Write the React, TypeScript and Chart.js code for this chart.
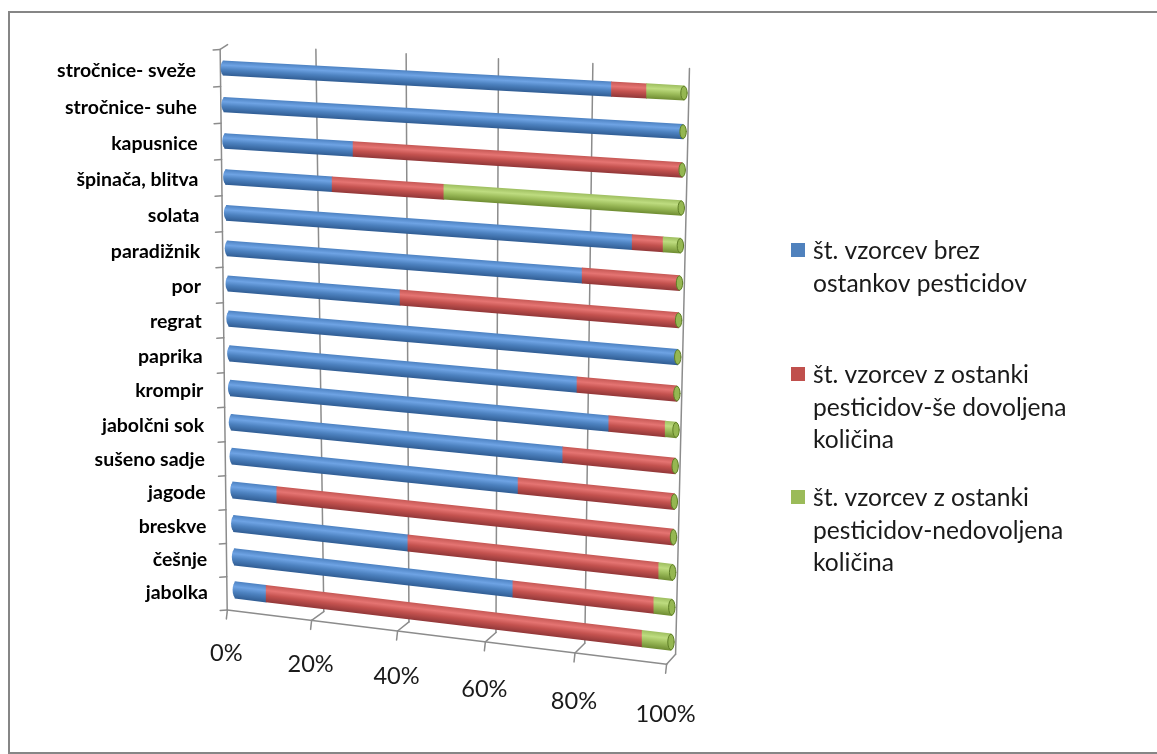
import React, { useEffect, useRef } from 'react';
import { Chart, registerables } from 'chart.js';

Chart.register(...registerables);

// ---------- data ----------
const CATEGORIES = [
  'stročnice- sveže',
  'stročnice- suhe',
  'kapusnice',
  'špinača, blitva',
  'solata',
  'paradižnik',
  'por',
  'regrat',
  'paprika',
  'krompir',
  'jabolčni sok',
  'sušeno sadje',
  'jagode',
  'breskve',
  'češnje',
  'jabolka',
];

const SERIES_NAMES = [
  'št. vzorcev brez ostankov pesticidov',
  'št. vzorcev z ostanki pesticidov-še dovoljena količina',
  'št. vzorcev z ostanki pesticidov-nedovoljena količina',
];

const LEGEND_LINES = [
  ['št. vzorcev brez', 'ostankov pesticidov'],
  ['št. vzorcev z ostanki', 'pesticidov-še dovoljena', 'količina'],
  ['št. vzorcev z ostanki', 'pesticidov-nedovoljena', 'količina'],
];

// percentages (100 % stacked)
const NO_RESIDUE = [85.0, 100, 29.2, 24.4, 89.9, 79.4, 39.5, 100, 78.6, 85.6, 75.7, 65.9, 10.5, 41.0, 64.9, 7.5];
const ALLOWED = [7.3, 0, 70.8, 24.9, 6.5, 20.6, 60.5, 0, 21.4, 12.1, 24.3, 34.1, 89.5, 56.0, 31.2, 86.2];
const NOT_ALLOWED = [7.7, 0, 0, 50.7, 3.6, 0, 0, 0, 0, 2.3, 0, 0, 0, 3.0, 3.9, 6.3];

const X_TICK_VALUES = [0, 20, 40, 60, 80, 100];
const X_TICK_LABELS = ['0%', '20%', '40%', '60%', '80%', '100%'];

// ---------- style ----------
const FONT = 'Lato, "Open Sans", sans-serif';
const BAR_T = 14;
const SOLID = ['#4f81bd', '#c0504d', '#9bbb59'];
const SHADES = [
  { top: '#4f84c4', light: '#6ea3e4', mid: '#4d82c0', dark: '#325f96' },
  { top: '#c85a57', light: '#e57472', mid: '#c4524f', dark: '#94393a' },
  { top: '#a0c062', light: '#bedc80', mid: '#9dbd5b', dark: '#718f34' },
];

// projection of the 3D plot (bar centre plane): corners for (u,v) = (0,0),(1,0),(1,1),(0,1)
const PLANE = {
  p00: [223, 68],
  p10: [684, 93],
  p11: [671, 642],
  p01: [235, 590],
};

function makeHomography(p00: number[], p10: number[], p11: number[], p01: number[]) {
  const [x0, y0] = p00, [x1, y1] = p10, [x2, y2] = p11, [x3, y3] = p01;
  const dx1 = x1 - x2, dx2 = x3 - x2, dx3 = x0 - x1 + x2 - x3;
  const dy1 = y1 - y2, dy2 = y3 - y2, dy3 = y0 - y1 + y2 - y3;
  const den = dx1 * dy2 - dx2 * dy1;
  const g = (dx3 * dy2 - dx2 * dy3) / den;
  const h = (dx1 * dy3 - dx3 * dy1) / den;
  const a = x1 - x0 + g * x1, b = x3 - x0 + h * x3, c = x0;
  const d = y1 - y0 + g * y1, e = y3 - y0 + h * y3, f = y0;
  return (u: number, v: number) => {
    const w = g * u + h * v + 1;
    return { x: (a * u + b * v + c) / w, y: (d * u + e * v + f) / w };
  };
}

const H = makeHomography(PLANE.p00, PLANE.p10, PLANE.p11, PLANE.p01);

function fitFont(ctx: CanvasRenderingContext2D, weight: string, text: string, target: number) {
  ctx.font = `${weight} 100px ${FONT}`;
  const w = ctx.measureText(text).width;
  return (100 * target) / w;
}

function gradientAt(ctx: CanvasRenderingContext2D, di: number, yc: number, t: number) {
  const s = SHADES[di];
  const g = ctx.createLinearGradient(0, yc - t / 2, 0, yc + t / 2);
  g.addColorStop(0, s.top);
  g.addColorStop(0.3, s.light);
  g.addColorStop(0.6, s.mid);
  g.addColorStop(1, s.dark);
  return g;
}

function makeGradient(context: any) {
  const di = context.datasetIndex ?? 0;
  const chart = context.chart;
  const ys = chart.scales && chart.scales.y;
  if (context.type !== 'data' || !ys) return SOLID[di];
  const yc = ys.getPixelForValue(context.dataIndex);
  if (!Number.isFinite(yc)) return SOLID[di];
  return gradientAt(chart.ctx, di, yc, BAR_T);
}

const perspectivePlugin = {
  id: 'perspective3d',
  beforeDatasetsDraw(chart: any) {
    const ctx: CanvasRenderingContext2D = chart.ctx;
    const r = chart.currentDevicePixelRatio || 1;
    const xs = chart.scales.x, ys = chart.scales.y;
    const n = CATEGORIES.length;
    const xa = xs.getPixelForValue(0), xb = xs.getPixelForValue(100);
    const ya = ys.getPixelForValue(0), yb = ys.getPixelForValue(n - 1);
    const U = (px: number) => (px - xa) / (xb - xa);
    const V = (py: number) => (py - ya) / (yb - ya);
    const half = 0.5 / (n - 1);
    const vTop = -half, vBot = 1 + half;
    const thick = (v: number) => 14.5 + 2 * v;

    const back = (u: number, v: number) => { const p = H(u, v); return { x: p.x + 5, y: p.y - 5 }; };
    const axisPt = (v: number) => { const p = H(0, v); return { x: p.x - 2.6 - 5.4 * v, y: p.y + 3.5 * v }; };
    const front = (u: number) => { const p = H(u, vBot); return { x: p.x - 4 - 4 * (1 - u), y: p.y + 5 - 1.5 * (1 - u) }; };

    ctx.save();
    // outer frame
    ctx.fillStyle = '#ffffff';
    ctx.fillRect(0, 0, chart.width, chart.height);
    ctx.strokeStyle = '#868686';
    ctx.lineWidth = 2;
    ctx.strokeRect(9, 12, chart.width + 20, chart.height - 13);

    // back wall gridlines + floor
    ctx.strokeStyle = '#8c8c8c';
    ctx.lineWidth = 1.5;
    ctx.lineCap = 'round';
    const line = (p: any, q: any) => { ctx.beginPath(); ctx.moveTo(p.x, p.y); ctx.lineTo(q.x, q.y); ctx.stroke(); };
    X_TICK_VALUES.forEach((val) => {
      const u = U(xs.getPixelForValue(val));
      if (u > 0.001) line(back(u, vTop), back(u, vBot));
      const f = front(u);
      if (u > 0.001) line(back(u, vBot), f);
      line(f, { x: f.x - 1, y: f.y + 9 });
    });
    line(front(0), front(1));
    // category axis (front-left edge) with ticks
    line(axisPt(vTop), axisPt(vBot));
    line(axisPt(vTop), back(0, vTop));
    for (let i = 0; i <= n; i++) {
      const p = axisPt(vTop + i / (n - 1));
      line(p, { x: p.x - 7, y: p.y + 0.5 });
    }

    // bars
    const metas = chart.data.datasets.map((_: any, di: number) => chart.getDatasetMeta(di));
    // left rounded ends
    for (let i = 0; i < n; i++) {
      for (let di = 0; di < metas.length; di++) {
        const el = metas[di].data[i];
        if (!el) continue;
        const { x, y, base } = el.getProps(['x', 'y', 'base'], true);
        if (!Number.isFinite(x) || !Number.isFinite(base) || Math.abs(x - base) < 0.01) continue;
        const v = V(y);
        const S = H(U(base), v);
        const t = thick(v);
        ctx.fillStyle = gradientAt(ctx, di, S.y, t);
        ctx.beginPath();
        ctx.ellipse(S.x + 1, S.y, 3.4, t / 2, 0, 0, Math.PI * 2);
        ctx.fill();
        break;
      }
    }
    metas.forEach((meta: any) => {
      meta.data.forEach((el: any) => {
        const { x, y, base } = el.getProps(['x', 'y', 'base'], true);
        if (!Number.isFinite(x) || !Number.isFinite(base) || Math.abs(x - base) < 0.01) return;
        const v = V(y);
        const S = H(U(base), v), E = H(U(x), v);
        const k = thick(v) / BAR_T;
        const s = 1 / (x - base);
        const a = (E.x - S.x) * s, b = (E.y - S.y) * s;
        ctx.save();
        ctx.setTransform(a * r, b * r, 0, k * r, (S.x - a * base) * r, (S.y - b * base - k * y) * r);
        el.draw(ctx);
        ctx.restore();
      });
    });
    // right end faces
    for (let i = 0; i < n; i++) {
      const y = ys.getPixelForValue(i);
      const v = V(y);
      const E = H(U(xs.getPixelForValue(100)), v);
      const t = thick(v);
      ctx.fillStyle = '#95b752';
      ctx.strokeStyle = '#5f7f26';
      ctx.lineWidth = 1;
      ctx.beginPath();
      ctx.ellipse(E.x, E.y, 3.2, t / 2 - 0.4, 0, 0, Math.PI * 2);
      ctx.fill();
      ctx.stroke();
    }

    // category labels
    const catSize = fitFont(ctx, 'bold', 'stročnice- sveže', 139);
    ctx.font = `bold ${catSize}px ${FONT}`;
    ctx.fillStyle = '#000000';
    ctx.textAlign = 'right';
    ctx.textBaseline = 'middle';
    (chart.data.labels as string[]).forEach((lab, i) => {
      const p = H(0, V(ys.getPixelForValue(i)));
      ctx.fillText(lab, p.x - 27, p.y + 3);
    });

    // value axis labels
    const tickSize = fitFont(ctx, 'normal', '100%', 60);
    ctx.font = `${tickSize}px ${FONT}`;
    ctx.textAlign = 'center';
    ctx.fillStyle = '#1a1a1a';
    X_TICK_VALUES.forEach((val, i) => {
      const u = U(xs.getPixelForValue(val));
      const f = front(u);
      ctx.fillText(X_TICK_LABELS[i], f.x - 1, f.y + 43 + 7 * u);
    });

    // legend
    const legSize = fitFont(ctx, 'normal', 'ostankov pesticidov', 214);
    ctx.font = `${legSize}px ${FONT}`;
    ctx.textAlign = 'left';
    const firstLine = [251, 375, 498];
    chart.data.datasets.forEach((ds: any, di: number) => {
      const y0 = firstLine[di];
      ctx.fillStyle = SOLID[di];
      ctx.fillRect(791, y0 - 8, 14, 14);
      ctx.fillStyle = '#1a1a1a';
      LEGEND_LINES[di].forEach((ln, li) => {
        ctx.fillText(ln, 813, y0 + li * 32.7);
      });
    });
    ctx.restore();
    return false;
  },
};

export default function App() {
  const ref = useRef<HTMLCanvasElement | null>(null);
  useEffect(() => {
    if (!ref.current) return;
    const chart = new Chart(ref.current, {
      type: 'bar',
      data: {
        labels: CATEGORIES,
        datasets: [NO_RESIDUE, ALLOWED, NOT_ALLOWED].map((vals, di) => ({
          label: SERIES_NAMES[di],
          data: vals,
          backgroundColor: (c: any) => makeGradient(c),
          borderWidth: 0,
          barThickness: BAR_T,
          stack: 'all',
        })),
      },
      options: {
        indexAxis: 'y',
        responsive: false,
        animation: false,
        layout: { padding: { left: 230, right: 480, top: 70, bottom: 110 } },
        scales: {
          x: { type: 'linear', min: 0, max: 100, stacked: true, display: false },
          y: { type: 'category', stacked: true, display: false },
        },
        plugins: {
          legend: { display: false },
          tooltip: { enabled: false },
        },
      },
      plugins: [perspectivePlugin],
    });
    return () => chart.destroy();
  }, []);
  return (
    <div style={{ position: 'fixed', left: 0, top: 0, width: 1157, height: 754, background: '#fff' }}>
      <canvas ref={ref} width={1157} height={754} style={{ width: 1157, height: 754, display: 'block' }} />
    </div>
  );
}
